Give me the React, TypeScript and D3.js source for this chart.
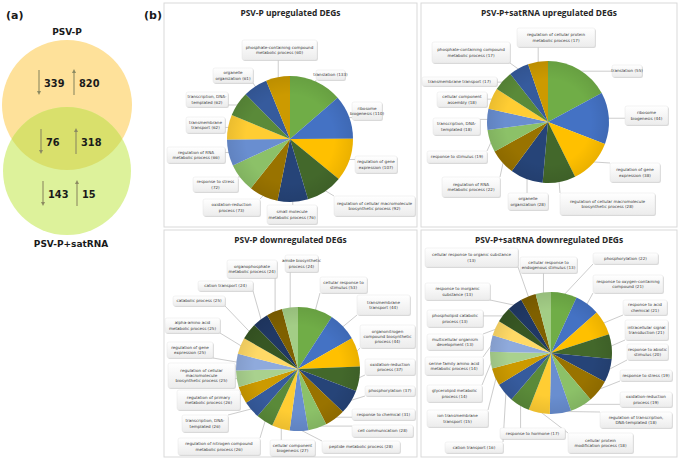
import React from "react";
import * as d3 from "d3";

// ---------- Venn data ----------
const vennSets = ["PSV-P", "PSV-P+satRNA"];
const vennDown = [339, 76, 143];
const vennUp = [820, 318, 15];

// ---------- Pie data ----------
const titles = [
  "PSV-P upregulated DEGs",
  "PSV-P+satRNA upregulated DEGs",
  "PSV-P downregulated DEGs",
  "PSV-P+satRNA downregulated DEGs",
];

const p1Terms = [
  "translation", "ribosome\nbiogenesis", "regulation of gene\nexpression",
  "regulation of cellular macromolecule\nbiosynthetic process", "small molecule\nmetabolic process",
  "oxidation-reduction\nprocess", "response to stress\n", "regulation of RNA\nmetabolic process",
  "transmembrane\ntransport", "transcription, DNA-\ntemplated", "organelle\norganization",
  "phosphate-containing compound\nmetabolic process",
];
const p1Counts = [133, 110, 107, 92, 76, 73, 72, 66, 62, 62, 61, 60];

const p2Terms = [
  "translation", "ribosome\nbiogenesis", "regulation of gene\nexpression",
  "regulation of cellular macromolecule\nbiosynthetic process", "organelle\norganization",
  "regulation of RNA\nmetabolic process", "response to stimulus", "transcription, DNA-\ntemplated",
  "cellular component\nassembly", "transmembrane transport",
  "phosphate-containing compound\nmetabolic process", "regulation of cellular protein\nmetabolic process",
];
const p2Counts = [55, 44, 38, 28, 28, 22, 19, 18, 18, 17, 17, 17];

const p3Terms = [
  "cellular response to\nstimulus", "transmembrane\ntransport",
  "organonitrogen\ncompound biosynthetic\nprocess", "oxidation-reduction\nprocess", "phosphorylation",
  "response to chemical", "cell communication", "peptide metabolic process",
  "cellular component\nbiogenesis", "regulation of nitrogen compound\nmetabolic process",
  "transcription, DNA-\ntemplated", "regulation of primary\nmetabolic process",
  "regulation of cellular\nmacromolecule\nbiosynthetic process", "regulation of gene\nexpression",
  "alpha-amino acid\nmetabolic process", "catabolic process", "cation transport",
  "organophosphate\nmetabolic process", "amide biosynthetic\nprocess",
];
const p3Counts = [53, 44, 44, 37, 37, 31, 28, 28, 27, 26, 26, 26, 25, 25, 25, 25, 24, 24, 24];

const p4Terms = [
  "phosphorylation", "response to oxygen-containing\ncompound", "response to acid\nchemical",
  "intracellular signal\ntransduction", "response to abiotic\nstimulus", "response to stress",
  "oxidation-reduction\nprocess", "regulation of transcription,\nDNA-templated",
  "cellular protein\nmodification process", "response to hormone", "cation transport",
  "ion transmembrane\ntransport", "glycerolipid metabolic\nprocess",
  "serine family amino acid\nmetabolic process", "multicellular organism\ndevelopment",
  "phospholipid catabolic\nprocess", "response to inorganic\nsubstance",
  "cellular response to organic substance\n", "cellular response to\nendogenous stimulus",
];
const p4Counts = [22, 21, 21, 21, 20, 19, 19, 18, 18, 17, 16, 15, 14, 14, 13, 13, 13, 13, 13];

const sliceColors = [
  "#70AD47", "#4472C4", "#FFC000", "#43682B", "#264478", "#997300",
  "#8CC168", "#698ED0", "#FFCD33", "#5A8A39", "#365B9D", "#CC9A00",
  "#A9D18E", "#8FAADC", "#FFD966", "#375623", "#203864", "#7F6000", "#A3CD86",
];

// ---------- Layout (positions only) ----------
const panelFrames = [
  [164, 3, 417, 227], [421, 3, 677, 227], [164, 230, 417, 457], [421, 230, 677, 457],
];
const pieGeom = [
  { cx: 290, cy: 139, r: 63 }, { cx: 548, cy: 122, r: 61 },
  { cx: 298, cy: 369, r: 62 }, { cx: 551, cy: 353, r: 61 },
];
const p1Boxes = [
  [316, 70, 345, 80], [352, 102, 382, 120], [355, 156, 397, 173], [334, 196, 415, 216],
  [267, 205, 317, 224], [203, 199, 260, 216], [193, 177, 238, 192], [167, 147, 225, 163],
  [186, 117, 225, 133], [186, 92, 228, 107], [213, 68, 253, 83], [242, 40, 317, 60],
];
const p2Boxes = [
  [612, 65, 642, 77], [625, 106, 668, 125], [610, 163, 660, 182], [560, 193, 655, 215],
  [508, 193, 548, 210], [442, 177, 500, 197], [427, 151, 487, 163], [433, 118, 480, 135],
  [437, 92, 487, 107], [422, 77, 497, 86], [432, 42, 510, 63], [517, 28, 595, 47],
];
const p3Boxes = [
  [320, 277, 367, 293], [357, 295, 410, 315], [360, 325, 415, 348], [365, 359, 415, 375],
  [365, 386, 415, 396], [352, 409, 415, 420], [352, 425, 413, 437], [322, 441, 400, 453],
  [270, 440, 315, 456], [178, 438, 260, 455], [182, 415, 228, 432], [177, 390, 240, 410],
  [168, 363, 235, 388], [167, 342, 213, 358], [165, 318, 220, 333], [173, 296, 225, 306],
  [198, 281, 253, 291], [227, 260, 277, 278], [285, 255, 318, 272],
];
const p4Boxes = [
  [593, 253, 658, 264], [593, 275, 663, 293], [623, 300, 667, 315], [625, 320, 668, 340],
  [627, 344, 668, 360], [620, 370, 672, 381], [620, 392, 672, 407], [600, 412, 672, 428],
  [568, 433, 633, 453], [500, 428, 565, 439], [445, 442, 503, 453], [427, 410, 488, 427],
  [427, 385, 482, 402], [425, 357, 483, 375], [427, 334, 483, 350], [427, 310, 483, 327],
  [425, 283, 490, 300], [425, 248, 518, 267], [520, 257, 577, 273],
];

const panels = [
  { terms: p1Terms, counts: p1Counts, boxes: p1Boxes },
  { terms: p2Terms, counts: p2Counts, boxes: p2Boxes },
  { terms: p3Terms, counts: p3Counts, boxes: p3Boxes },
  { terms: p4Terms, counts: p4Counts, boxes: p4Boxes },
];

const labelText = (t: string, n: number) =>
  (t.endsWith("\n") ? t + `(${n})` : t + ` (${n})`).split("\n");

function PiePanel({ idx }: { idx: number }) {
  const { terms, counts, boxes } = panels[idx];
  const g = pieGeom[idx];
  const fr = panelFrames[idx];
  const pie = d3.pie<number>().sort(null).value((d) => d);
  const arcs = pie(counts);
  const arc = d3.arc<d3.PieArcDatum<number>>().innerRadius(0).outerRadius(g.r);
  const fs = 4.1;
  const lh = 5.2;
  const gid = "pg" + idx;
  return (
    <g>
      <defs>
        <radialGradient id={gid} cx={g.cx} cy={g.cy} r={g.r} gradientUnits="userSpaceOnUse">
          <stop offset="0.7" stopColor="#000" stopOpacity={0} />
          <stop offset="1" stopColor="#000" stopOpacity={0.08} />
        </radialGradient>
      </defs>
      <rect x={fr[0]} y={fr[1]} width={fr[2] - fr[0]} height={fr[3] - fr[1]} fill="#fff" stroke="#D9D9D9" strokeWidth={1} />
      <text x={(fr[0] + fr[2]) / 2} y={fr[1] + 13} textAnchor="middle" fontFamily="'Open Sans', sans-serif" fontWeight="bold" fontSize={8.4} fill="#262626">
        {titles[idx]}
      </text>
      {arcs.map((a, i) => {
        const mid = (a.startAngle + a.endAngle) / 2;
        const px = g.cx + Math.sin(mid) * g.r * 0.97;
        const py = g.cy - Math.cos(mid) * g.r * 0.97;
        const b = boxes[i];
        const qx = Math.max(b[0], Math.min(b[2], px));
        const qy = Math.max(b[1], Math.min(b[3], py));
        return <line key={"l" + i} x1={px} y1={py} x2={qx} y2={qy} stroke="#BFBFBF" strokeWidth={0.8} />;
      })}
      <g transform={`translate(${g.cx},${g.cy})`}>
        {arcs.map((a, i) => (
          <path key={"s" + i} d={arc(a) || ""} fill={sliceColors[i % sliceColors.length]} />
        ))}
      </g>
      <circle cx={g.cx} cy={g.cy} r={g.r} fill={`url(#${gid})`} />
      {arcs.map((a, i) => {
        const b = boxes[i];
        const lines = labelText(terms[i], counts[i]);
        const cx = (b[0] + b[2]) / 2;
        const cy = (b[1] + b[3]) / 2;
        const y0 = cy - ((lines.length - 1) * lh) / 2 + fs * 0.35;
        return (
          <g key={"b" + i}>
            <rect x={b[0] + 0.9} y={b[1] + 0.9} width={b[2] - b[0]} height={b[3] - b[1]} rx={2} fill="#C8C8C8" opacity={0.7} />
            <rect x={b[0]} y={b[1]} width={b[2] - b[0]} height={b[3] - b[1]} rx={2} fill="url(#boxGrad)" stroke="#E0E0E0" strokeWidth={0.4} />
            {lines.map((ln, j) => (
              <text key={j} x={cx} y={y0 + j * lh} textAnchor="middle" fontFamily="'DejaVu Sans', sans-serif" fontSize={fs} fill="#3a3a3a">
                {ln}
              </text>
            ))}
          </g>
        );
      })}
    </g>
  );
}

function Arrow({ x, y1, y2 }: { x: number; y1: number; y2: number }) {
  const dir = y2 > y1 ? 1 : -1;
  return (
    <g stroke="#8C8A62" fill="#8C8A62">
      <line x1={x} y1={y1} x2={x} y2={y2 - dir * 2} strokeWidth={1.1} />
      <path d={`M${x - 2},${y2 - dir * 4}L${x + 2},${y2 - dir * 4}L${x},${y2}Z`} stroke="none" />
    </g>
  );
}

function Venn() {
  const c1 = { x: 67, y: 105, r: 65 };
  const c2 = { x: 67, y: 171, r: 64 };
  const rows = [83, 142, 194];
  const downX = [39, 41, 43];
  const upX = [74, 76, 77];
  const numFont = { fontFamily: "'DejaVu Sans', sans-serif", fontWeight: "bold" as const, fontSize: 9.8, fill: "#1a1a1a" };
  return (
    <g>
      <defs>
        <clipPath id="clipTop">
          <circle cx={c1.x} cy={c1.y} r={c1.r} />
        </clipPath>
      </defs>
      <circle cx={c1.x} cy={c1.y} r={c1.r} fill="#FEE19A" />
      <circle cx={c2.x} cy={c2.y} r={c2.r} fill="#DDF29B" />
      <circle cx={c2.x} cy={c2.y} r={c2.r} fill="#D9E06C" clipPath="url(#clipTop)" />
      <text x={67} y={35} textAnchor="middle" {...numFont} fontSize={9}>{vennSets[0]}</text>
      <text x={71} y={247} textAnchor="middle" {...numFont} fontSize={9}>{vennSets[1]}</text>
      {rows.map((y, i) => (
        <g key={i}>
          <Arrow x={downX[i]} y1={y - 13} y2={y + 12} />
          <text x={downX[i] + 5} y={y + 3.5} {...numFont}>{vennDown[i]}</text>
          <Arrow x={upX[i]} y1={y + 12} y2={y - 14} />
          <text x={upX[i] + 5} y={y + 3.5} {...numFont}>{vennUp[i]}</text>
        </g>
      ))}
    </g>
  );
}

export default function App() {
  return (
    <svg width={680} height={460} style={{ position: "fixed", left: 0, top: 0, background: "#fff" }}>
      <defs>
        <linearGradient id="boxGrad" x1="0" y1="0" x2="0" y2="1">
          <stop offset="0" stopColor="#FFFFFF" />
          <stop offset="1" stopColor="#ECECEC" />
        </linearGradient>
      </defs>
      <rect width={680} height={460} fill="#fff" />
      <Venn />
      <text x={6} y={19} fontFamily="'DejaVu Sans', sans-serif" fontWeight="bold" fontSize={11} fill="#1a1a1a">(a)</text>
      <text x={144} y={19} fontFamily="'DejaVu Sans', sans-serif" fontWeight="bold" fontSize={11} fill="#1a1a1a">(b)</text>
      {[0, 1, 2, 3].map((i) => (
        <PiePanel key={i} idx={i} />
      ))}
    </svg>
  );
}
